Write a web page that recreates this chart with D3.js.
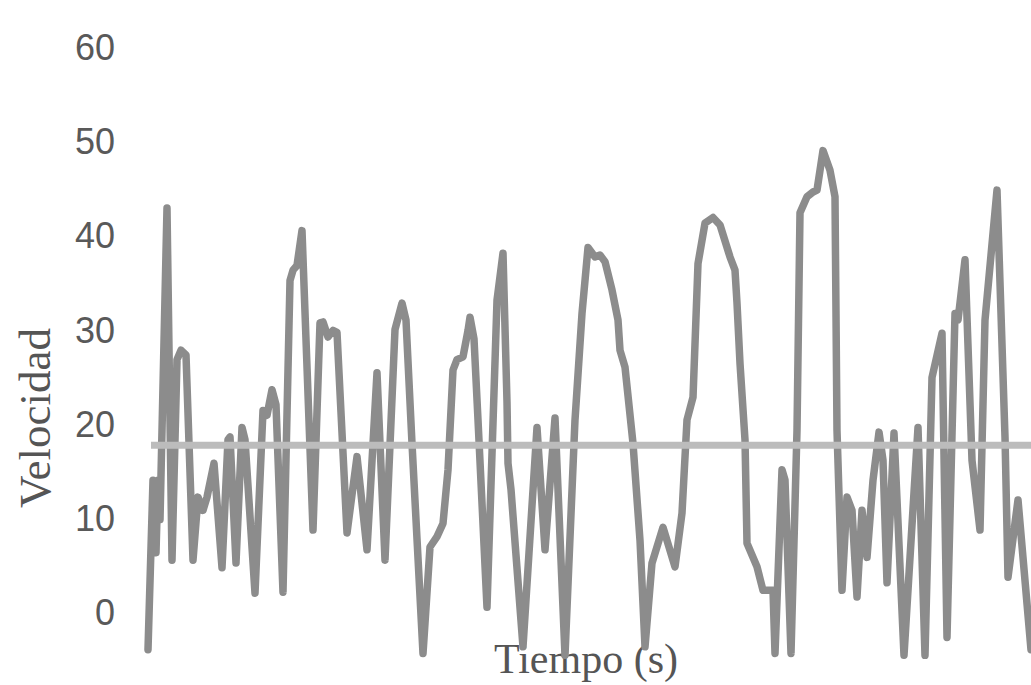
<!DOCTYPE html>
<html>
<head>
<meta charset="utf-8">
<script src="https://cdn.jsdelivr.net/npm/d3@7"></script>
<style>
  html, body { margin: 0; padding: 0; background: #fff; }
  svg { display: block; }
</style>
</head>
<body>
<svg id="chart" width="1031" height="685"></svg>
<script>
// Speed readings over time (seconds / speed), ten samples per row
const timeSec = [
  0, 2.5, 4, 5, 6, 9.5, 12, 14.5, 16.5, 19,
  22.5, 25, 27.5, 29.5, 33, 37, 40, 41, 44, 47,
  48.5, 53.5, 57.5, 59.5, 62, 64, 67.5, 71, 72.5, 74.5,
  77, 82.5, 86, 87.5, 90, 92.5, 94.5, 99.5, 104.5, 109.5,
  114.5, 118.5, 123.5, 127, 129, 132, 137.5, 141, 144.5, 147.5,
  150, 152.5, 154.5, 157.5, 160, 161, 163, 165, 169.5, 174.5,
  177.5, 179.5, 180, 181.5, 187.5, 194.5, 198.5, 203.5, 208.5, 213.5,
  217, 220, 223.5, 226, 228.5, 232, 235, 236, 238.5, 242.5,
  246, 248.5, 252, 257.5, 263.5, 267, 269.5, 272.5, 275, 278.5,
  282.5, 286, 291, 293.5, 294.5, 296, 298.5, 299.5, 304.5, 307.5,
  312.5, 313.5, 317, 318.5, 321.5, 324.5, 326, 329.5, 332.5, 334.5,
  337.5, 341, 343.5, 344.5, 347, 349.5, 352, 354.5, 357, 359.5,
  362.5, 365.5, 367.5, 369.5, 373, 378, 385, 388.5, 392, 397,
  399.5, 403.5, 405, 408.5, 412, 416, 418.5, 424.5, 428.5, 430,
  435, 441.5
];
const speed = [
  -4.0, 14.0, 6.3, 14.0, 9.8, 42.9, 5.5, 26.8, 27.8, 27.3,
  5.5, 12.2, 10.8, 12.2, 15.8, 4.7, 18.3, 18.6, 5.2, 19.6,
  18.3, 2.0, 21.4, 20.9, 23.6, 22.0, 2.1, 35.2, 36.3, 36.8,
  40.5, 8.7, 30.7, 30.8, 29.2, 29.9, 29.7, 8.4, 16.5, 6.6,
  25.4, 5.5, 30.0, 32.8, 31.0, 17.9, -4.4, 6.9, 8.0, 9.4,
  15.1, 25.7, 26.8, 27.1, 29.9, 31.3, 29.0, 20.4, 0.5, 33.1,
  38.1, 22.3, 15.8, 13.0, -3.7, 19.6, 6.6, 20.6, -4.6, 20.4,
  31.7, 38.7, 37.7, 37.9, 37.2, 34.2, 31.0, 27.8, 26.0, 17.9,
  7.6, -3.7, 5.2, 9.0, 4.8, 10.5, 20.4, 22.8, 37.0, 41.3,
  41.9, 41.1, 37.7, 36.3, 32.8, 26.4, 18.3, 7.3, 4.8, 2.3,
  2.3, -4.4, 15.1, 14.0, -4.4, 19.3, 42.4, 44.1, 44.6, 44.8,
  49.0, 46.9, 44.1, 19.3, 2.3, 12.2, 10.8, 1.6, 10.8, 5.8,
  14.0, 19.1, 16.1, 3.1, 19.0, -4.6, 19.6, -4.6, 24.9, 29.6,
  -2.7, 31.7, 31.0, 37.4, 16.1, 8.7, 31.0, 44.8, 18.6, 3.7,
  11.9, -4.0
];
const meanSpeed = 17.7;
const speedTicks = [0, 10, 20, 30, 40, 50, 60];

const svg = d3.select("#chart");

const x = d3.scaleLinear().domain([0, 441.5]).range([148, 1031]);
const y = d3.scaleLinear().domain([0, 60]).range([612, 47]);

// Y axis labels only (no axis line, no ticks)
const yAxis = d3.axisLeft(y).tickValues(speedTicks).tickSize(0).tickPadding(0);
const gy = svg.append("g").attr("transform", "translate(115,0)").call(yAxis);
gy.select(".domain").remove();
gy.selectAll("text")
  .attr("font-family", "'Liberation Sans', Arial, sans-serif")
  .attr("font-size", 36)
  .attr("fill", "#595959")
  .attr("dy", "0.35em");

// Axis titles
svg.append("text")
  .attr("transform", "translate(50,418) rotate(-90)")
  .attr("text-anchor", "middle")
  .attr("font-family", "'Liberation Serif', 'Times New Roman', serif")
  .attr("font-size", 45)
  .attr("fill", "#555")
  .text("Velocidad");

svg.append("text")
  .attr("x", 586)
  .attr("y", 673)
  .attr("text-anchor", "middle")
  .attr("font-family", "'Liberation Serif', 'Times New Roman', serif")
  .attr("font-size", 42)
  .attr("fill", "#555")
  .text("Tiempo (s)");

// Speed series
const pts = timeSec.map((t, i) => [t, speed[i]]);
const line = d3.line().x(d => x(d[0])).y(d => y(d[1]));
svg.append("path")
  .datum(pts)
  .attr("d", line)
  .attr("fill", "none")
  .attr("stroke", "#8c8c8c")
  .attr("stroke-width", 7.5)
  .attr("stroke-linejoin", "round")
  .attr("stroke-linecap", "round");

// Mean speed line
svg.append("line")
  .attr("x1", x(0) + 3)
  .attr("x2", x(441.5))
  .attr("y1", y(meanSpeed))
  .attr("y2", y(meanSpeed))
  .attr("stroke", "#bcbcbc")
  .attr("stroke-width", 7);
</script>
</body>
</html>
